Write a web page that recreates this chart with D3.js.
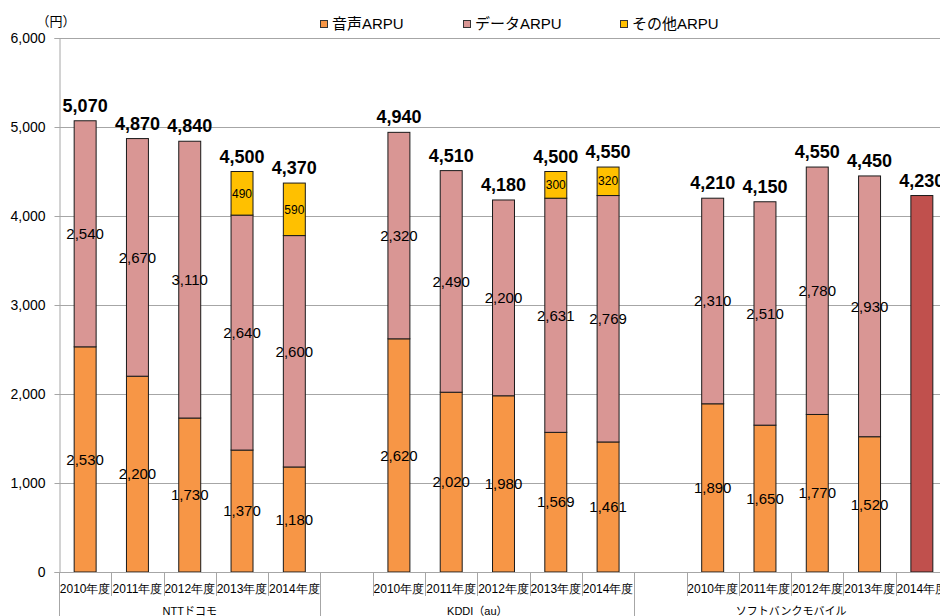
<!DOCTYPE html>
<html><head><meta charset="utf-8">
<script src="https://cdn.jsdelivr.net/npm/d3@7"></script>
<style>
html,body{margin:0;padding:0;background:#fff;}
svg{display:block;font-family:"Liberation Sans",Arial,"Noto Sans CJK JP",sans-serif;}
</style></head><body>
<svg id="c" width="940" height="616"></svg>
<script>
// ---- data ----
const groups = ["NTTドコモ", "KDDI（au）", "ソフトバンクモバイル"];
const years = ["2010年度", "2011年度", "2012年度", "2013年度", "2014年度"];
const voiceNTT = [2530, 2200, 1730, 1370, 1180];
const dataNTT  = [2540, 2670, 3110, 2640, 2600];
const otherNTT = [0, 0, 0, 490, 590];
const totalNTT = [5070, 4870, 4840, 4500, 4370];
const voiceKDDI = [2620, 2020, 1980, 1569, 1461];
const dataKDDI  = [2320, 2490, 2200, 2631, 2769];
const otherKDDI = [0, 0, 0, 300, 320];
const totalKDDI = [4940, 4510, 4180, 4500, 4550];
const voiceSB = [1890, 1650, 1770, 1520, 0];
const dataSB  = [2310, 2510, 2780, 2930, 0];
const otherSB = [0, 0, 0, 0, 0];
const totalOnlySB = [0, 0, 0, 0, 4230];
const totalSB = [4210, 4150, 4550, 4450, 4230];
const seriesNames = ["音声ARPU", "データARPU", "その他ARPU"];
const yTicks = [0, 1000, 2000, 3000, 4000, 5000, 6000];

const colors = {voice: "#F79646", data: "#D99694", other: "#FFC000", totalOnly: "#C0504D"};

// build category list (with blank gap categories between groups)
const cats = [];
const perGroup = [
  {v: voiceNTT, d: dataNTT, o: otherNTT, t: totalNTT, only: [0,0,0,0,0]},
  {v: voiceKDDI, d: dataKDDI, o: otherKDDI, t: totalKDDI, only: [0,0,0,0,0]},
  {v: voiceSB, d: dataSB, o: otherSB, t: totalSB, only: totalOnlySB}
];
groups.forEach((g, gi) => {
  if (gi > 0) cats.push({key: "gap" + gi, group: g, blank: true});
  years.forEach((yr, yi) => {
    const s = perGroup[gi];
    cats.push({key: g + "|" + yr, group: g, year: yr, blank: false,
      voice: s.v[yi], data: s.d[yi], other: s.o[yi], only: s.only[yi], total: s.t[yi]});
  });
});

const svg = d3.select("#c");
const mLeft = 59, mRight = 948, mTop = 38, mBottom = 572;
const x = d3.scaleBand().domain(cats.map(c => c.key)).range([mLeft, mRight]).padding(0);
const y = d3.scaleLinear().domain([0, 6000]).range([mBottom, mTop]);
const bw = x.bandwidth() * 0.42;
const fmt = d3.format(",");
const gridColor = "#a6a6a6";

// gridlines
svg.append("g").selectAll("line").data(yTicks.filter(t => t > 0)).join("line")
  .attr("x1", mLeft).attr("x2", 940).attr("y1", d => Math.round(y(d)) + 0.5).attr("y2", d => Math.round(y(d)) + 0.5)
  .attr("stroke", gridColor).attr("stroke-width", 1);

// y axis
const yAxis = d3.axisLeft(y).tickValues(yTicks).tickFormat(fmt).tickSize(5).tickPadding(9);
const ya = svg.append("g").attr("transform", `translate(${mLeft + 0.5},0)`).call(yAxis);
ya.select(".domain").attr("stroke", gridColor);
ya.selectAll(".tick line").attr("stroke", gridColor);
ya.selectAll(".tick text").attr("font-size", 14).attr("fill", "#000")
  .attr("font-family", "'Liberation Sans',Arial,sans-serif");
svg.append("text").attr("x", 56).attr("y", 26).attr("text-anchor", "middle")
  .attr("font-size", 13).text("（円）");

// bars
const real = cats.filter(c => !c.blank);
const segs = [];
real.forEach(c => {
  let base = 0;
  [["voice", c.voice, 15], ["data", c.data, 15], ["other", c.other, 12], ["totalOnly", c.only, 0]].forEach(([k, v, fs]) => {
    if (v > 0) { segs.push({c, k, y0: base, y1: base + v, v, fs}); base += v; }
  });
});
const cx = c => x(c.key) + x.bandwidth() / 2;
svg.append("g").selectAll("rect").data(segs).join("rect")
  .attr("x", d => cx(d.c) - bw / 2).attr("width", bw)
  .attr("y", d => y(d.y1)).attr("height", d => y(d.y0) - y(d.y1))
  .attr("fill", d => colors[d.k]).attr("stroke", "#1a1a1a").attr("stroke-width", 1);

// segment labels
svg.append("g").selectAll("text").data(segs.filter(d => d.fs > 0)).join("text")
  .attr("x", d => cx(d.c)).attr("y", d => (y(d.y0) + y(d.y1)) / 2)
  .attr("dy", "0.35em").attr("text-anchor", "middle").attr("font-size", d => d.fs)
  .attr("fill", "#000").text(d => fmt(d.v));

// total labels
svg.append("g").selectAll("text").data(real).join("text")
  .attr("x", d => cx(d)).attr("y", d => y(d.voice + d.data + d.other + d.only) - 9)
  .attr("text-anchor", "middle").attr("font-size", 18).attr("font-weight", "bold")
  .text(d => fmt(d.total));

// x axis
svg.append("line").attr("x1", mLeft).attr("x2", 940).attr("y1", mBottom + 0.5).attr("y2", mBottom + 0.5)
  .attr("stroke", gridColor);
const xa = d3.axisBottom(x).tickSize(0).tickFormat(k => { const c = cats.find(c => c.key === k); return c.blank ? "" : c.year; });
const xg = svg.append("g").attr("transform", `translate(0,${mBottom})`).call(xa);
xg.select(".domain").remove();
xg.selectAll(".tick text").attr("font-size", 12).attr("fill", "#000").attr("dy", 0).attr("y", 21);
// category separators
const bounds = cats.map((c, i) => ({pos: x(c.key), long: i === 0 || c.blank}));
bounds.push({pos: mRight, long: true});
svg.append("g").selectAll("line").data(bounds).join("line")
  .attr("x1", d => Math.round(d.pos) + 0.5).attr("x2", d => Math.round(d.pos) + 0.5)
  .attr("y1", mBottom).attr("y2", d => d.long ? 616 : 596)
  .attr("stroke", gridColor);
// group labels
groups.forEach((g) => {
  const gc = cats.filter(c => c.group === g);
  const x0 = x(gc[0].key), x1 = x(gc[gc.length - 1].key) + x.bandwidth();
  svg.append("text").attr("x", (x0 + x1) / 2).attr("y", 615).attr("text-anchor", "middle")
    .attr("font-size", 11).text(g);
});

// legend
const legX = [320, 463, 620];
const legKeys = ["voice", "data", "other"];
seriesNames.forEach((n, i) => {
  svg.append("rect").attr("x", legX[i] + 0.5).attr("y", 20.5).attr("width", 7).attr("height", 7)
    .attr("fill", colors[legKeys[i]]).attr("stroke", "#333");
  svg.append("text").attr("x", legX[i] + 12).attr("y", 29).attr("font-size", 15).text(n);
});
</script>
</body></html>
